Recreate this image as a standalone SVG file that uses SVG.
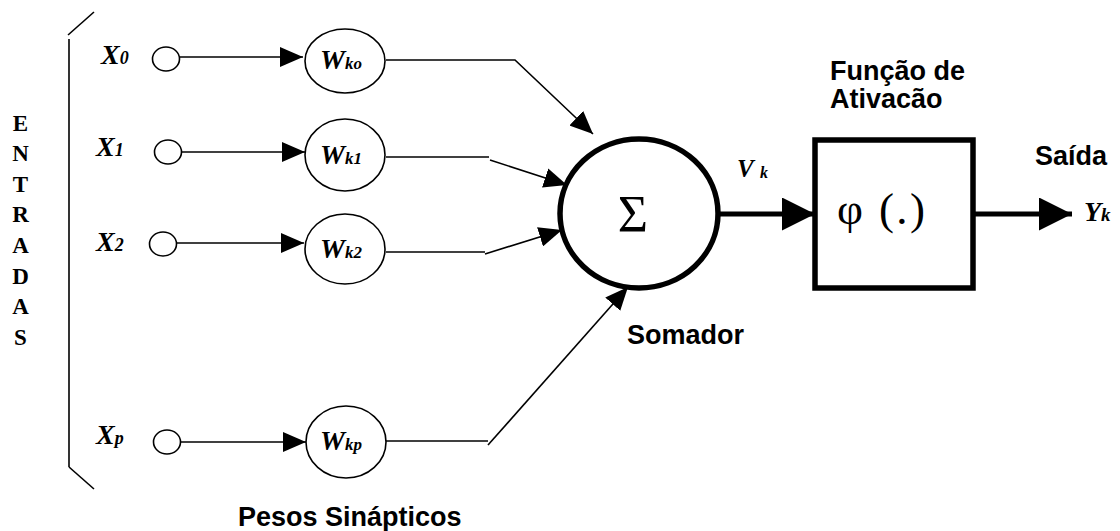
<svg xmlns="http://www.w3.org/2000/svg" width="1120" height="531" viewBox="0 0 1120 531">
<defs>
<style>
.thin{fill:none;stroke:#000;stroke-width:1.6}
.thick{fill:none;stroke:#000;stroke-width:5}
.node{fill:#fff;stroke:#000;stroke-width:1.6}
.big{fill:#fff;stroke:#000;stroke-width:5.5}
.ser{font-family:"Liberation Serif","Times New Roman",serif;font-weight:bold;font-style:italic;fill:#000}
.san{font-family:"Liberation Sans",Arial,sans-serif;font-weight:bold;font-size:27px;fill:#000}
.ent{font-family:"Liberation Serif","Times New Roman",serif;font-weight:bold;font-size:23px;fill:#000;text-anchor:middle}
</style>
<marker id="sa" markerUnits="userSpaceOnUse" markerWidth="23" markerHeight="20" refX="23" refY="10" orient="auto"><path d="M0,0 L23,10 L0,20 Z" fill="#000"/></marker>
<marker id="ba" markerUnits="userSpaceOnUse" markerWidth="33" markerHeight="33" refX="33" refY="16.5" orient="auto"><path d="M0,0 L33,16.5 L0,33 Z" fill="#000"/></marker>
<clipPath id="clipA"><rect x="800" y="50" width="220" height="58"/></clipPath>
</defs>
<rect width="1120" height="531" fill="#fff"/>

<g id="bracket" class="thin">
<line x1="94" y1="12" x2="68" y2="35"/>
<line x1="69" y1="39" x2="69" y2="467"/>
<line x1="69" y1="467" x2="94" y2="489"/>
</g>
<g id="entradas">
<text class="ent" x="20.5" y="131">E</text>
<text class="ent" x="20.5" y="161">N</text>
<text class="ent" x="20.5" y="192">T</text>
<text class="ent" x="20.5" y="222">R</text>
<text class="ent" x="20.5" y="253">A</text>
<text class="ent" x="20.5" y="284">D</text>
<text class="ent" x="20.5" y="314">A</text>
<text class="ent" x="20.5" y="345">S</text>
</g>

<g id="connectors">
<line class="thin" x1="180" y1="57" x2="303" y2="57" marker-end="url(#sa)"/>
<line class="thin" x1="182" y1="152" x2="305" y2="152" marker-end="url(#sa)"/>
<line class="thin" x1="176" y1="243" x2="304" y2="243" marker-end="url(#sa)"/>
<line class="thin" x1="180" y1="442" x2="306" y2="442" marker-end="url(#sa)"/>
<polyline class="thin" points="386,60 515,60 593,134" marker-end="url(#sa)"/>
<line class="thin" x1="386" y1="157" x2="489" y2="157"/>
<line class="thin" x1="490" y1="160" x2="567" y2="185" marker-end="url(#sa)"/>
<line class="thin" x1="386" y1="252" x2="485" y2="252"/>
<line class="thin" x1="485" y1="254" x2="562" y2="230" marker-end="url(#sa)"/>
<line class="thin" x1="386" y1="441" x2="488" y2="441"/>
<line class="thin" x1="488" y1="445" x2="628" y2="287" marker-end="url(#sa)"/>
<line class="thick" x1="718" y1="214" x2="815" y2="214" marker-end="url(#ba)"/>
<line class="thick" x1="973" y1="214" x2="1072" y2="214" marker-end="url(#ba)"/>
</g>

<g id="x0"><ellipse class="node" cx="166" cy="59" rx="13.5" ry="12"/>
<text class="ser" x="101" y="64" font-size="28">X<tspan font-size="18">0</tspan></text></g>
<g id="x1"><ellipse class="node" cx="168" cy="152" rx="13.5" ry="12"/>
<text class="ser" x="96" y="156" font-size="28">X<tspan font-size="18">1</tspan></text></g>
<g id="x2"><ellipse class="node" cx="163" cy="244" rx="13.5" ry="12"/>
<text class="ser" x="96" y="251" font-size="28">X<tspan font-size="18">2</tspan></text></g>
<g id="xp"><ellipse class="node" cx="167" cy="442" rx="13.5" ry="12"/>
<text class="ser" x="96" y="444" font-size="28">X<tspan font-size="18">p</tspan></text></g>

<g id="wk0"><ellipse class="node" cx="345" cy="61" rx="40" ry="32"/>
<text class="ser" x="320" y="69" font-size="28">W<tspan font-size="17">ko</tspan></text></g>
<g id="wk1"><ellipse class="node" cx="345" cy="155" rx="40" ry="36"/>
<text class="ser" x="320" y="164" font-size="28">W<tspan font-size="17">k1</tspan></text></g>
<g id="wk2"><ellipse class="node" cx="345" cy="249" rx="40" ry="35"/>
<text class="ser" x="320" y="258" font-size="28">W<tspan font-size="17">k2</tspan></text></g>
<g id="wkp"><ellipse class="node" cx="346" cy="442" rx="40" ry="36"/>
<text class="ser" x="320" y="450" font-size="28">W<tspan font-size="17">kp</tspan></text></g>

<g id="somador"><ellipse class="big" cx="639" cy="213.5" rx="79" ry="74.5"/>
<text x="633" y="232" font-family="'Liberation Serif','Times New Roman',serif" font-size="52" text-anchor="middle">Σ</text>
<text class="san" x="627" y="344">Somador</text></g>

<g id="vk"><text class="ser" x="737" y="177" font-size="25" font-weight="normal">V</text>
<text class="ser" x="760" y="178" font-size="16">k</text></g>

<g id="ativacao"><rect class="big" x="815" y="140" width="158" height="148"/>
<text x="837" y="224" font-family="'Liberation Serif','Times New Roman',serif" font-size="45" textLength="88" lengthAdjust="spacing">φ (.)</text>
<text class="san" x="830" y="80">Função de</text>
<text class="san" x="830" y="108" clip-path="url(#clipA)">Ativação</text></g>

<g id="saida"><text class="san" x="1035" y="165">Saída</text>
<text class="ser" x="1084" y="221" font-size="28">Y<tspan font-size="19">k</tspan></text></g>

<text class="san" x="238" y="526">Pesos Sinápticos</text>
</svg>
